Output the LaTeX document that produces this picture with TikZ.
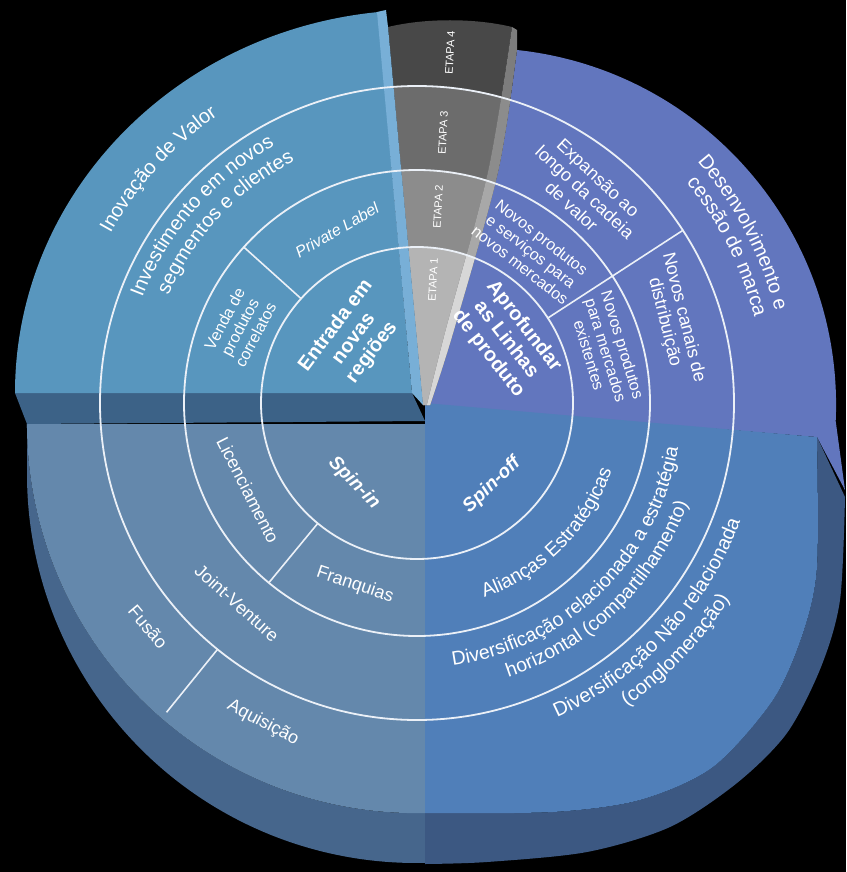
\documentclass[tikz,border=0pt]{standalone}
\usepackage{fontspec}
\setmainfont{Liberation Sans}
\usetikzlibrary{decorations.text}
\definecolor{tlface}{HTML}{5896BE}
\definecolor{tlside}{HTML}{78AFD7}
\definecolor{tlfront}{HTML}{3C6287}
\definecolor{trface}{HTML}{6276BE}
\definecolor{brface}{HTML}{507FB9}
\definecolor{brside}{HTML}{3C5882}
\definecolor{blface}{HTML}{6488AC}
\definecolor{blside}{HTML}{46668C}
\definecolor{etapaA}{HTML}{B4B4B4}
\definecolor{etapaB}{HTML}{8C8C8C}
\definecolor{etapaC}{HTML}{6C6C6C}
\definecolor{etapaD}{HTML}{484848}
\definecolor{stripA}{HTML}{D7D7D7}
\definecolor{stripB}{HTML}{A8A8A8}
\definecolor{stripC}{HTML}{8C8C8C}
\definecolor{stripD}{HTML}{7D7D7D}
\definecolor{ringline}{HTML}{EBF0F7}
\begin{document}
\begin{tikzpicture}[x=1pt,y=-1pt,
    ring/.style={draw=ringline,line width=1.8pt},
    cut/.style={draw=ringline,line width=1.6pt},
    txt/.style={text=white,align=center,inner sep=0pt},
    txtbig/.style={txt,font=\fontsize{20}{22}\selectfont},
    txtmid/.style={txt,font=\fontsize{18}{19.5}\selectfont},
    txtsml/.style={txt,font=\fontsize{16}{17.5}\selectfont},
    txtcore/.style={txt,font=\fontsize{20}{22.5}\selectfont\bfseries},
    txtetapa/.style={text=white,inner sep=0pt,font=\fontsize{11}{12}\selectfont,rotate=87},
    arctext/.style={decorate,decoration={text along path,text align=center,text={#1}}}]

\useasboundingbox (0,0) rectangle (846,872);
\fill[black] (0,0) rectangle (846,872);
\coordinate (C) at (417,403);

\fill[blside] (27,424) -- (27,474) arc[start angle=180,end angle=88.67,radius=389] -- (425,813) arc[start angle=88.67,end angle=180,radius=389] -- cycle;
\fill[blface] (27,424) -- (425,424) -- (425,813) arc[start angle=88.67,end angle=180,radius=389] -- cycle;

\fill[trface] (427,405) -- plot[smooth] coordinates {(430,405) (453,333) (498,172) (517,50)} arc[start angle=-83.9,end angle=2.6,radius=357] -- (845,490) -- (817,437) -- cycle;
\fill[brside] (817,437) -- plot[smooth] coordinates {(845,497) (840,600) (821,667) (787,733) (737,783) (670,827) (587,852) (487,862) (425,864)} -- plot[smooth] coordinates {(425,813) (553,812) (640,800) (713,767) (773,700) (803,633) (817,567) (817,437)} -- cycle;
\fill[brface] (425,403) -- plot[smooth] coordinates {(817,437) (817,567) (803,633) (773,700) (713,767) (640,800) (553,812) (425,813)} -- cycle;

\begin{scope}
  \clip (423,405) -- (388,27) .. controls (425,18) and (475,18) .. (512,27) -- plot[smooth] coordinates {(512,27) (488,172) (445,333) (427,405)} -- cycle;
  \fill[etapaD] (300,0) rectangle (560,420);
  \fill[etapaC] (C) circle[radius=317pt];
  \fill[etapaB] (C) circle[radius=233pt];
  \fill[etapaA] (C) circle[radius=156pt];
\end{scope}
\begin{scope}
  \clip plot[smooth] coordinates {(427,405) (445,333) (488,172) (512,27)} -- (517,30) -- plot[smooth] coordinates {(517,50) (498,172) (453,333) (430,405)} -- cycle;
  \fill[stripD] (300,0) rectangle (560,420);
  \fill[stripC] (C) circle[radius=317pt];
  \fill[stripB] (C) circle[radius=233pt];
  \fill[stripA] (C) circle[radius=156pt];
\end{scope}

\fill[tlfront] (15,393) -- (412,393) -- (425,421) -- (27,424) -- cycle;
\fill[tlface] (412,393) -- (15,393) arc[start angle=180,end angle=264,x radius=405,y radius=383] -- cycle;
\fill[tlside] (377,12) -- (386,10) -- (388,27) -- (423,405) -- (412,393) -- cycle;

\draw[ring] (C) circle[radius=156pt] (C) circle[radius=233pt] (C) circle[radius=317pt];
\draw[cut] ([shift={(C)}]138:156pt) -- ([shift={(C)}]138:233pt);
\draw[cut] ([shift={(C)}]33:156pt) -- ([shift={(C)}]33:317pt);
\draw[cut] ([shift={(C)}]230.5:156pt) -- ([shift={(C)}]230.5:233pt);
\draw[cut] ([shift={(C)}]231:317pt) -- ([shift={(C)}]231:398pt);

\path[arctext={|\color{white}\fontsize{20}{22}\selectfont|Inovação de Valor}] ([shift={(C)}]180:350pt) arc[start angle=180,end angle=95.8,radius=350pt];
\path[arctext={|\color{white}\fontsize{20}{22}\selectfont|Investimento em novos}] ([shift={(C)}]180:294pt) arc[start angle=180,end angle=98,radius=294pt];
\path[arctext={|\color{white}\fontsize{20}{22}\selectfont|segmentos e clientes}] ([shift={(C)}]175:271pt) arc[start angle=175,end angle=98.4,radius=271pt];
\node[txtsml,font=\fontsize{16}{17.5}\selectfont\itshape,rotate=30] (privlab) at (337,230) {Private Label};
\node[txtsml,rotate=62] (venda) at (240,327) {Venda de\\produtos\\correlatos};
\node[txtcore,rotate=53] (entrada) at (354,339) {Entrada em\\novas\\regiões};

\node[txtcore,rotate=-52] (aprof) at (506,340) {Aprofundar\\as Linhas\\de produto};
\node[txtsml,rotate=-38] (npserv) at (531,251) {Novos produtos\\e serviços para\\novos mercados};
\node[txtsml,rotate=-73] (npexist) at (606,350) {Novos produtos\\para mercados\\existentes};
\node[txtmid,rotate=-43] (expan) at (585,192) {Expansão ao\\longo da cadeia\\de valor};
\node[txtmid,rotate=-76] (canais) at (674,320) {Novos canais de\\distribuição};
\path[arctext={|\color{white}\fontsize{20}{22}\selectfont|Desenvolvimento e}] ([shift={(C)}]60:370pt) arc[start angle=60,end angle=-4.8,radius=370pt];
\path[arctext={|\color{white}\fontsize{20}{22}\selectfont|cessão de marca}] ([shift={(C)}]60:348pt) arc[start angle=60,end angle=-6.5,radius=348pt];

\node[txtcore,font=\fontsize{19}{21}\selectfont\bfseries\itshape,rotate=-45] (spinin) at (354,483) {Spin-in};
\node[txtmid,rotate=-63] (licen) at (248,490) {Licenciamento};
\node[txtmid,rotate=-18.6] (franq) at (355,585) {Franquias};
\node[txtmid,rotate=-42] (joint) at (237,603) {Joint-Venture};
\node[txtmid,rotate=-50] (fusao) at (148,627) {Fusão};
\node[txtmid,rotate=-28] (aquis) at (263,723) {Aquisição};

\node[txtcore,font=\fontsize{19}{21}\selectfont\bfseries\itshape,rotate=44] (spinoff) at (492,485) {Spin-off};
\path[arctext={|\color{white}\fontsize{19.5}{21}\selectfont|Alianças Estratégicas}] ([shift={(C)}]-90:206pt) arc[start angle=-90,end angle=0,radius=206pt];
\path[arctext={|\color{white}\fontsize{19.5}{21}\selectfont|Diversificação relacionada a estratégia}] ([shift={(C)}]-100:265pt) arc[start angle=-100,end angle=8,radius=265pt];
\path[arctext={|\color{white}\fontsize{19.5}{21}\selectfont|horizontal (compartilhamento)}] ([shift={(C)}]-100:289pt) arc[start angle=-100,end angle=8,radius=289pt];
\path[arctext={|\color{white}\fontsize{20}{22}\selectfont|Diversificação Não relacionada}] ([shift={(C)}]-95:344pt) arc[start angle=-95,end angle=9,radius=344pt];
\path[arctext={|\color{white}\fontsize{20}{22}\selectfont|(conglomeração)}] ([shift={(C)}]-95:369pt) arc[start angle=-95,end angle=7.6,radius=369pt];

\node[txtetapa] (etapa1) at (433,280) {ETAPA 1};
\node[txtetapa] (etapa2) at (438,207) {ETAPA 2};
\node[txtetapa] (etapa3) at (443,133) {ETAPA 3};
\node[txtetapa] (etapa4) at (450,53) {ETAPA 4};
\end{tikzpicture}
\end{document}
